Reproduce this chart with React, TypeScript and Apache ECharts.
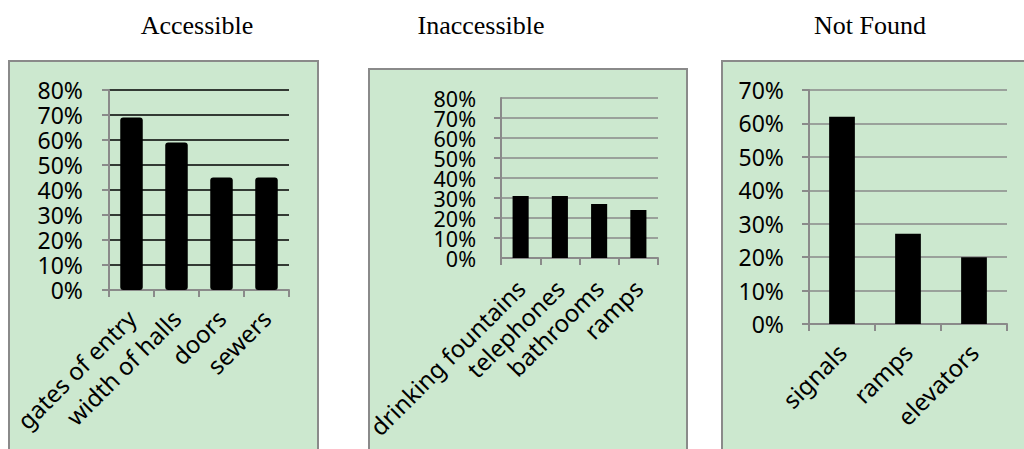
import React, { useEffect, useRef } from "react";
import * as echarts from "echarts";

const titles = ["Accessible", "Inaccessible", "Not Found"];

const accCats = ["gates of entry", "width of halls", "doors", "sewers"];
const accVals = [69, 59, 45, 45];

const inaccCats = ["drinking fountains", "telephones", "bathrooms", "ramps"];
const inaccVals = [31, 31, 27, 24];

const nfCats = ["signals", "ramps", "elevators"];
const nfVals = [62, 27, 20];

const yMax = [80, 80, 70];

const FONT = "'Noto Sans', sans-serif";
const GRAY = "#8a8a8a";

export default function App() {
  const ref = useRef<HTMLDivElement>(null);

  useEffect(() => {
    if (!ref.current) return;
    const chart = echarts.init(ref.current, null, { renderer: "svg" });

    const grids = [
      { left: 109, top: 90, width: 180, height: 200 },
      { left: 501, top: 98, width: 157, height: 160 },
      { left: 809, top: 90, width: 198, height: 234 },
    ];
    const splitColors = ["#000000", GRAY, GRAY];
    const cats = [accCats, inaccCats, nfCats];
    const vals = [accVals, inaccVals, nfVals];
    const barWidths = ["50%", "41%", "39%"];
    const labelMargins = [26, 25, 25];
    const xMargins = [24, 26, 24];
    const yFontSizes = [23, 21.5, 23];

    const xAxis = cats.map((c, i) => ({
      type: "category",
      gridIndex: i,
      data: c,
      axisLine: { show: true, lineStyle: { color: GRAY, width: 2 } },
      axisTick: { show: true, length: 7, lineStyle: { color: GRAY, width: 2 } },
      axisLabel: {
        rotate: 45,
        interval: 0,
        margin: xMargins[i],
        fontSize: 24,
        fontFamily: FONT,
        color: "#000",
      },
    }));

    const labelBase = (i: number) => ({
      margin: labelMargins[i],
      fontSize: yFontSizes[i],
      fontFamily: FONT,
      color: "#000",
    });

    const mainY = yMax.map((m, i) => ({
      type: "value",
      gridIndex: i,
      position: "left",
      min: 0,
      max: m,
      interval: 10,
      axisLine: { show: true, lineStyle: { color: GRAY, width: 2 } },
      axisTick: { show: true, length: 7, lineStyle: { color: GRAY, width: 2 } },
      splitLine: { show: true, lineStyle: { color: splitColors[i], width: 1.6 } },
      axisLabel:
        i === 1
          ? {
              ...labelBase(i),
              showMinLabel: false,
              showMaxLabel: false,
              formatter: (v: number) => ((v / 10) % 2 === 1 ? v + "%" : ""),
            }
          : { ...labelBase(i), formatter: "{value}%" },
    }));

    // second label-only axis for the tightly packed middle panel (even ticks)
    const evenY = {
      type: "value",
      gridIndex: 1,
      position: "left",
      offset: 0,
      min: 0,
      max: yMax[1],
      interval: 20,
      axisLine: { show: false },
      axisTick: { show: false },
      splitLine: { show: false },
      axisLabel: { ...labelBase(1), formatter: "{value}%" },
    };

    const yAxis = [...mainY, evenY];

    const series = vals.map((v, i) => ({
      type: "bar",
      xAxisIndex: i,
      yAxisIndex: i,
      data: v,
      barWidth: barWidths[i],
      itemStyle: { color: "#000", borderRadius: i === 0 ? 3 : 0 },
    }));

    const boxes = [
      { x: 9, y: 61, w: 309 },
      { x: 369, y: 69, w: 318 },
      { x: 722, y: 61, w: 330 },
    ];
    const titleX = [197, 481, 870];

    chart.setOption({
      animation: false,
      backgroundColor: "#ffffff",
      grid: grids.map((g) => ({ ...g, containLabel: false })),
      xAxis,
      yAxis,
      series,
      graphic: [
        ...boxes.map((b) => ({
          type: "rect",
          z: -10,
          shape: { x: b.x, y: b.y, width: b.w, height: 420 },
          style: { fill: "#cce8cf", stroke: GRAY, lineWidth: 2 },
          silent: true,
        })),
        ...titles.map((t, i) => ({
          type: "text",
          x: titleX[i],
          y: 25,
          style: {
            text: t,
            font: "26px 'Liberation Serif', 'Times New Roman', serif",
            fill: "#000",
            textAlign: "center",
            textVerticalAlign: "middle",
          },
        })),
      ],
    });

    return () => chart.dispose();
  }, []);

  return (
    <div
      ref={ref}
      style={{ position: "fixed", left: 0, top: 0, width: 1024, height: 449 }}
    />
  );
}
